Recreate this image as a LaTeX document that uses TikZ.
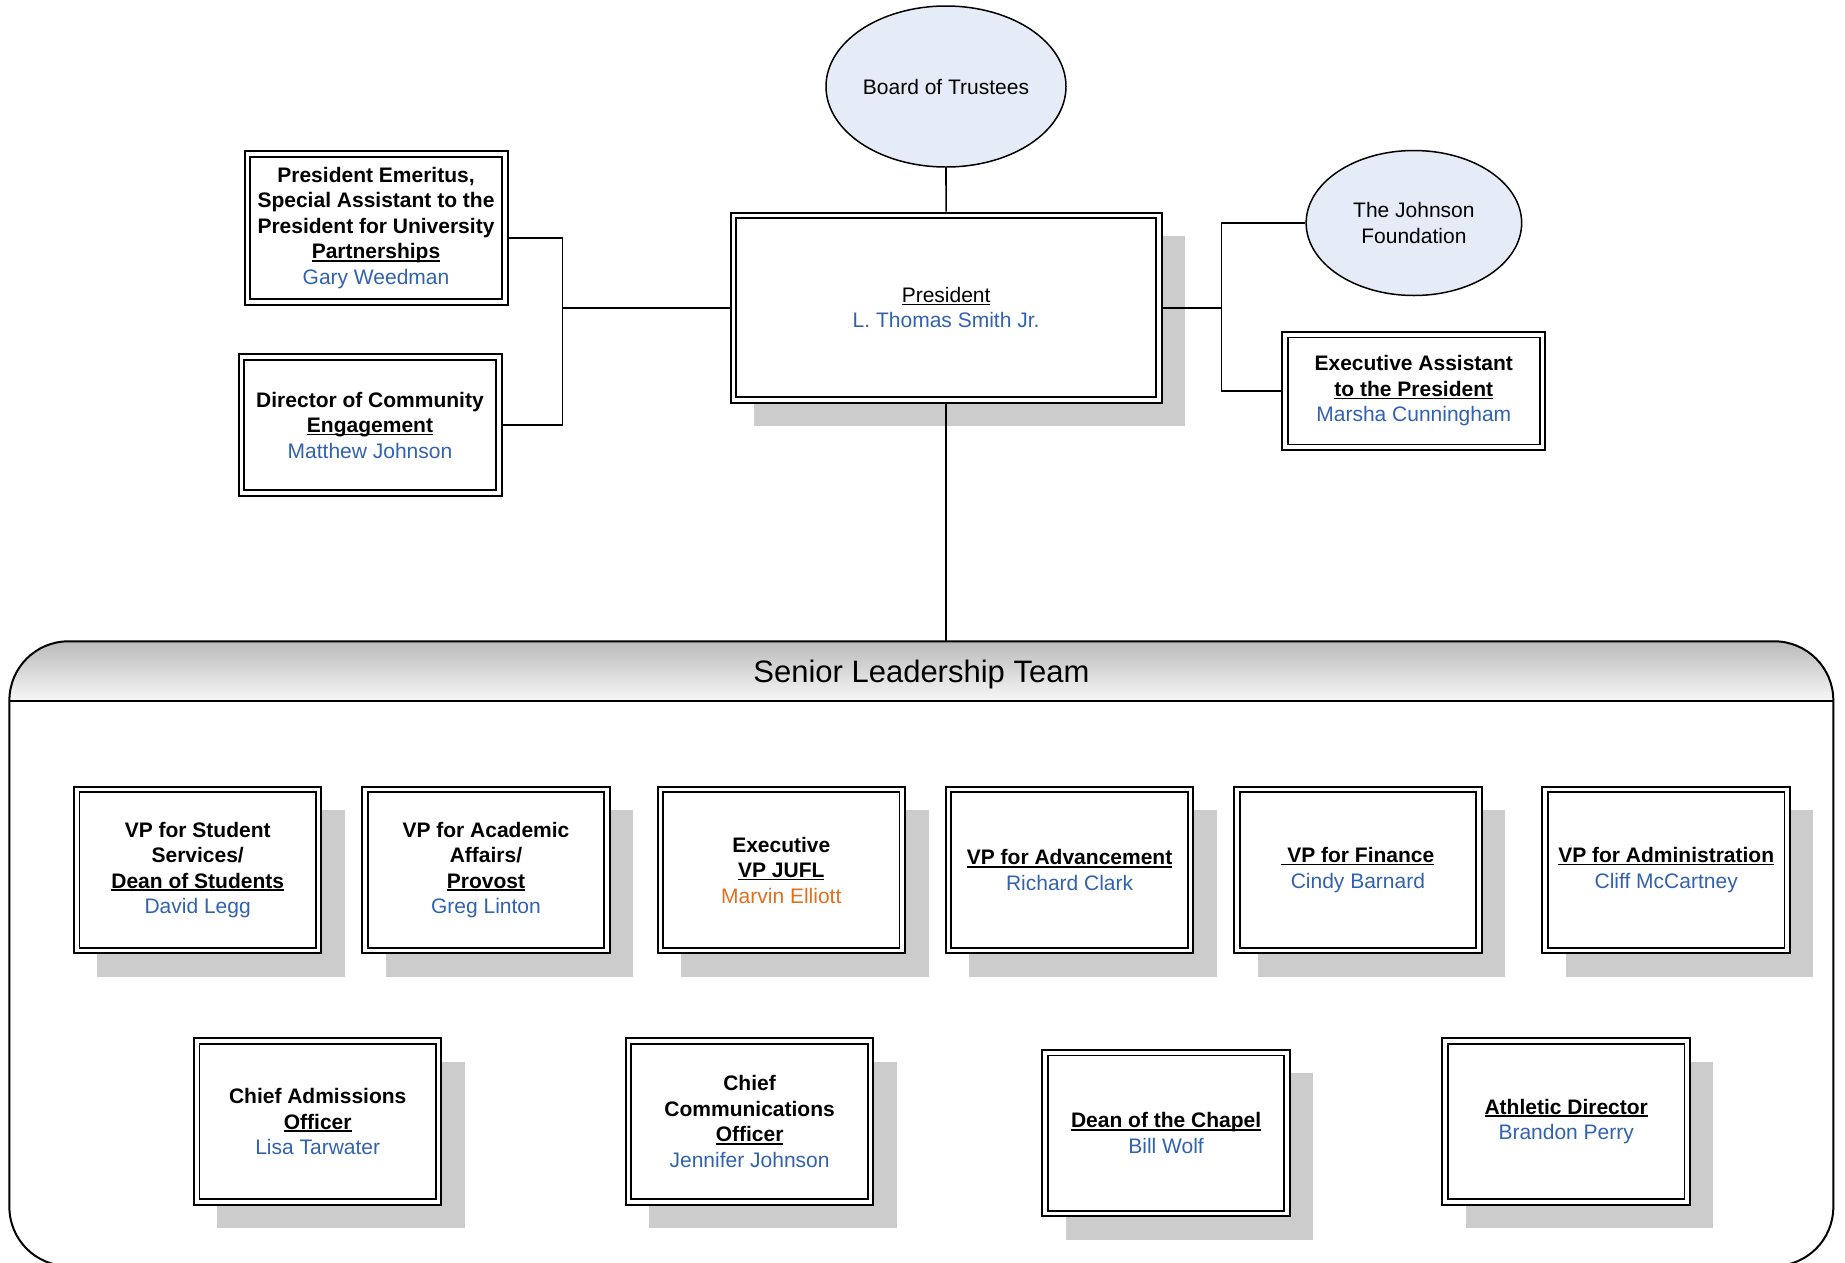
\documentclass[tikz,border=0pt]{standalone}
\usepackage{fontspec}
\setmainfont{Liberation Sans}
\usetikzlibrary{shapes.geometric,shadows}
\definecolor{nameblue}{HTML}{3262AE}
\definecolor{nameorange}{HTML}{E0701E}
\definecolor{ovalfill}{HTML}{E6ECF7}
\newcommand\ulx[1]{\setbox0=\hbox{#1}\rlap{\rule[-2.8pt]{\wd0}{1.6pt}}\box0}
\newcommand\pname[1]{\textcolor{nameblue}{#1}}
\begin{document}
\begin{tikzpicture}[x=1pt,y=-1pt,
  every node/.style={font=\fontsize{21}{25.5}\selectfont, align=center},
  dbox/.style={draw=black, line width=2pt, fill=white, inner sep=2pt,
    path picture={\draw[line width=1.8pt]
      ([xshift=5.5pt,yshift=-5.5pt]path picture bounding box.north west) rectangle
      ([xshift=-5.5pt,yshift=5.5pt]path picture bounding box.south east);}},
  shbox/.style={dbox, drop shadow={shadow xshift=23.5pt, shadow yshift=-23.5pt, fill=black!20, opacity=1}},
  rowbox/.style={shbox, minimum width=247.5pt, minimum height=166.5pt},
  oval/.style={ellipse, draw=black, line width=1.5pt, fill=ovalfill, inner sep=0pt},
  conn/.style={line width=1.6pt}
]
\useasboundingbox (0,0) rectangle (1845,1262);

% Senior Leadership Team container
\begin{scope}
  \clip[rounded corners=59pt] (9.4,1266) -- (9.4,641.3) -- (1833.3,641.3) -- (1833.3,1266) -- cycle;
  \shade[top color=black!27, bottom color=black!3] (9.4,641.3) rectangle (1833.3,701.3);
\end{scope}
\draw[line width=2pt, rounded corners=59pt] (9.4,1266) -- (9.4,641.3) -- (1833.3,641.3) -- (1833.3,1266) -- cycle;
\draw[line width=2pt] (9.4,701.3) -- (1833.3,701.3);
\node[font=\fontsize{31}{36}\selectfont] (slttitle) at (921.4,674) {Senior Leadership Team};
\coordinate (slt) at (946.1,641.3);

% top part
\node[oval, minimum width=240pt, minimum height=161pt] (board) at (946,86.5) {Board of Trustees};
\node[shbox, minimum width=431pt, minimum height=190pt] (pres) at (946.1,307.7)
  {\ulx{President}\\\pname{L. Thomas Smith Jr.}};
\node[dbox, minimum width=263pt, minimum height=153.5pt] (emer) at (376,228)
  {\textbf{President Emeritus,}\\\textbf{Special Assistant to the}\\\textbf{President for University}\\\textbf{\ulx{Partnerships}}\\\pname{Gary Weedman}};
\node[dbox, minimum width=263pt, minimum height=141.6pt] (dir) at (370,425)
  {\textbf{Director of Community}\\\textbf{\ulx{Engagement}}\\\pname{Matthew Johnson}};
\node[oval, minimum width=215.5pt, minimum height=145pt] (jf) at (1413.9,223) {The Johnson\\Foundation};
\node[dbox, minimum width=263pt, minimum height=118pt] (ea) at (1413.8,391)
  {\textbf{Executive Assistant}\\\textbf{\ulx{to the President}}\\\pname{Marsha Cunningham}};

% connectors
\coordinate (lt) at (562.5,237.7);
\coordinate (rt) at (1221.4,223);
\draw[conn] (emer.east |- lt) -- (lt) -- (lt |- dir.east) -- (dir.east);
\draw[conn] (board.south) -- (pres.north);
\draw[conn] (pres.west) -- (pres.west -| lt);
\draw[conn] (jf.west) -- (rt) -- (rt |- ea.west) -- (ea.west);
\draw[conn] (pres.east) -- (pres.east -| rt);
\draw[conn] (pres.south) -- (slt);

% row 1
\node[rowbox] (vpss) at (197.7,870) {\textbf{VP for Student}\\\textbf{Services/}\\\textbf{\ulx{Dean of Students}}\\\pname{David Legg}};
\node[rowbox] (vpaa) at (486,870) {\textbf{VP for Academic}\\\textbf{Affairs/}\\\textbf{\ulx{Provost}}\\\pname{Greg Linton}};
\node[rowbox] (evp) at (781.3,870) {\textbf{Executive}\\\textbf{\ulx{VP JUFL}}\\\textcolor{nameorange}{Marvin Elliott}};
\node[rowbox] (vpadv) at (1069.6,870) {\textbf{\ulx{VP for Advancement}}\\\pname{Richard Clark}};
\node[rowbox] (vpfin) at (1357.9,870) {\textbf{\ulx{\ VP for Finance}}\\\pname{Cindy Barnard}};
\node[rowbox] (vpadm) at (1666.2,870) {\textbf{\ulx{VP for Administration}}\\\pname{Cliff McCartney}};

% row 2
\node[rowbox] (cao) at (317.7,1121.5) {\textbf{Chief Admissions}\\\textbf{\ulx{Officer}}\\\pname{Lisa Tarwater}};
\node[rowbox] (cco) at (749.6,1121.5) {\textbf{Chief}\\\textbf{Communications}\\\textbf{\ulx{Officer}}\\\pname{Jennifer Johnson}};
\node[rowbox] (dean) at (1166.1,1133.2) {\textbf{\ulx{Dean of the Chapel}}\\\pname{Bill Wolf}};
\node[rowbox] (ath) at (1566.2,1121.5) {\textbf{\ulx{Athletic Director}}\\\pname{Brandon Perry}};
\end{tikzpicture}
\end{document}
